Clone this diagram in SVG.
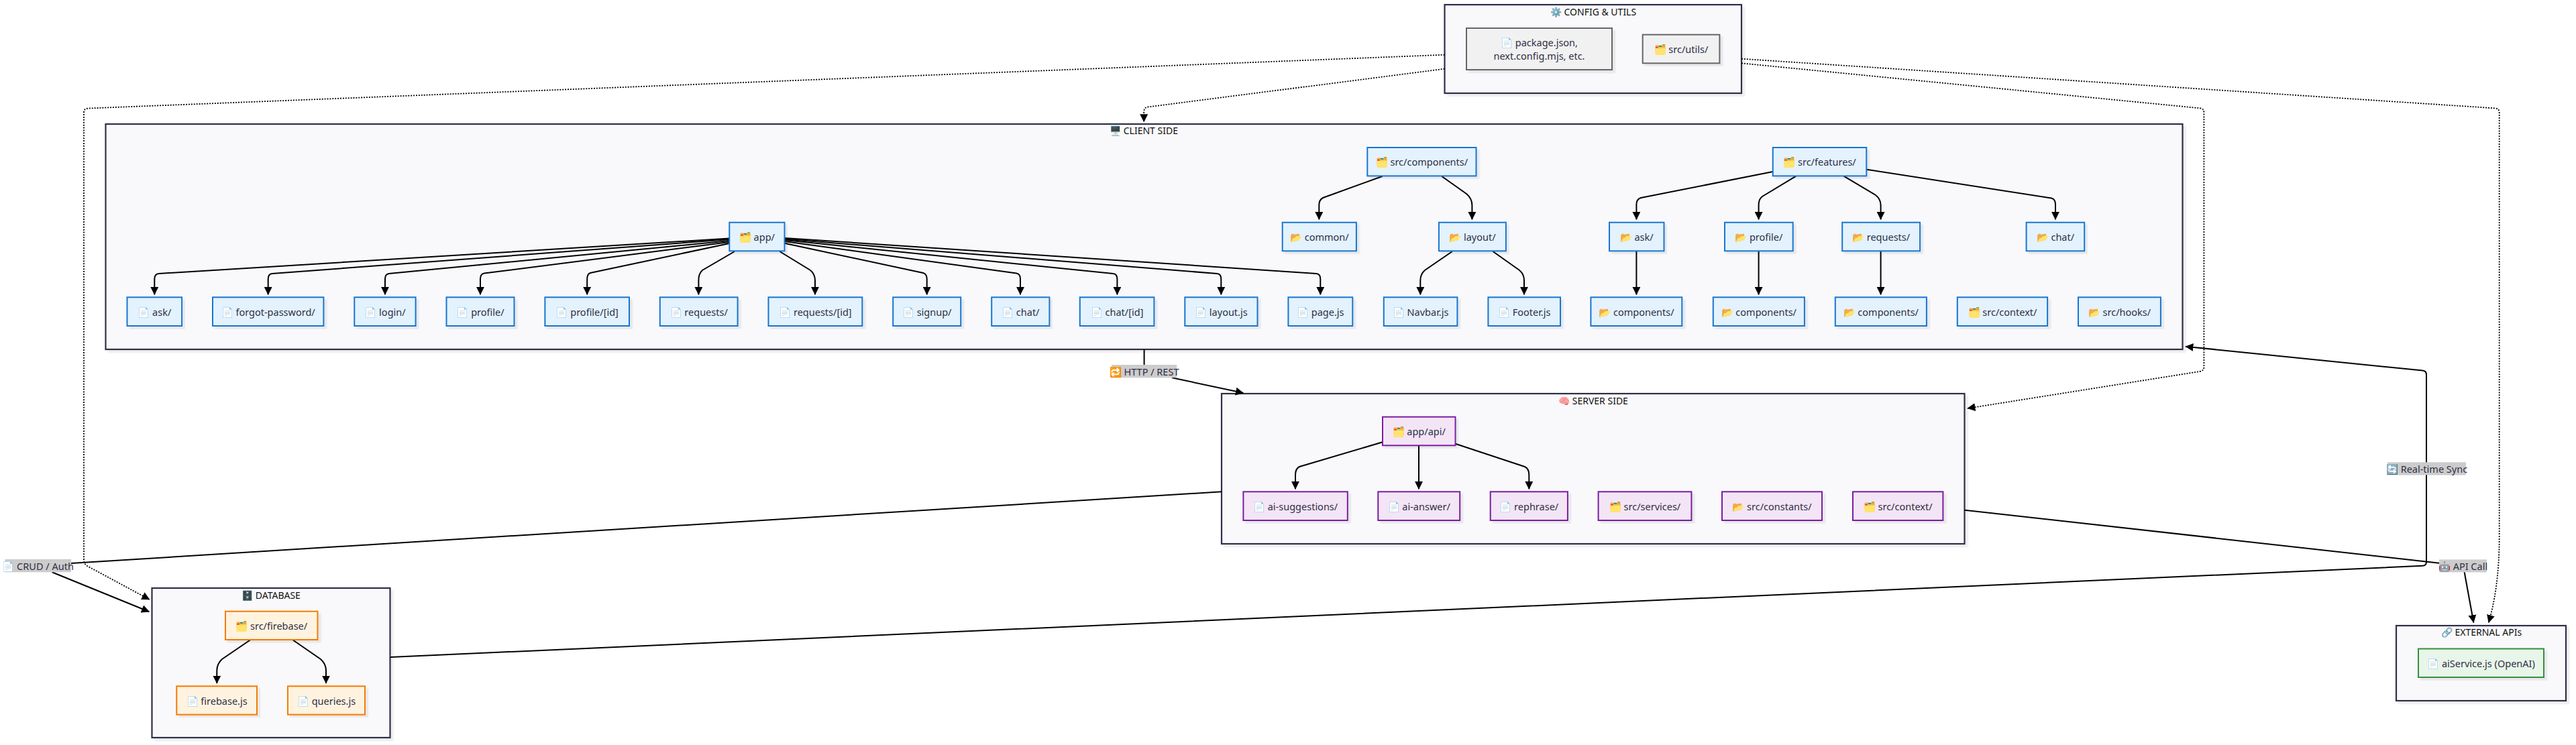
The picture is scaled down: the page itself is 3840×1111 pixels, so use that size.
<svg xmlns="http://www.w3.org/2000/svg" width="3840" height="1111" viewBox="0 0 3840 1111">
<style>
text{font-family:"Noto Sans","Open Sans",sans-serif;font-size:14.5px;fill:#2f2f45;text-anchor:middle;dominant-baseline:central}
.t{fill:#111;font-size:14px}
.c{fill:#f9f9fb;stroke:#2f2f48;stroke-width:2.2;filter:url(#sh)}
.n{stroke-width:2;filter:url(#sh)}
.b{fill:#e3f2fd;stroke:#1976d2}
.p{fill:#f3e5f5;stroke:#7b1fa2}
.o{fill:#fff3e0;stroke:#f57c00}
.g{fill:#e8f5e9;stroke:#388e3c}
.y{fill:#f1f1f1;stroke:#666}
.e{fill:none;stroke:#000;stroke-width:2;marker-end:url(#a)}
.l{fill:none;stroke:#000;stroke-width:2}
.d{fill:none;stroke:#000;stroke-width:1.8;stroke-dasharray:2 1.9;marker-end:url(#a)}
.lb{fill:#ccc}
</style>
<defs>
<filter id="sh" x="-5%" y="-5%" width="110%" height="115%"><feDropShadow dx="4" dy="4" stdDeviation="1" flood-color="#000" flood-opacity=".07"/></filter>
<marker id="a" markerUnits="userSpaceOnUse" viewBox="0 0 10 10" refX="9.5" refY="5" markerWidth="12" markerHeight="12" orient="auto"><path d="M0 0L10 5L0 10z" fill="#000"/></marker>
</defs>
<rect width="3840" height="1111" fill="#fff"/>
<g id="clusters">
<g id="cluster-config"><rect class="c" x="2153.5" y="7" width="442.5" height="132"/><text class="t" x="2375" y="17">⚙️ CONFIG &amp; UTILS</text></g>
<g id="cluster-client"><rect class="c" x="157.5" y="185" width="3096" height="336"/><text class="t" x="1705" y="194.5">🖥️ CLIENT SIDE</text></g>
<g id="cluster-server"><rect class="c" x="1821" y="587" width="1107.5" height="224"/><text class="t" x="2375" y="597">🧠 SERVER SIDE</text></g>
<g id="cluster-db"><rect class="c" x="226.5" y="877" width="355" height="223"/><text class="t" x="404" y="887">🗄️ DATABASE</text></g>
<g id="cluster-external"><rect class="c" x="3572" y="933" width="253" height="112"/><text class="t" x="3699" y="942.5">🔗 EXTERNAL APIs</text></g>
</g>
<g id="connectors">
<path class="e" d="M1087.3 355.5L237 408Q230.3 408.5 230.3 416V439.3"/>
<path class="e" d="M1087.3 357L406 408Q399.7 408.5 399.7 416V439.3"/>
<path class="e" d="M1087.3 359L580 408Q574 408.8 574 416V439.3"/>
<path class="e" d="M1087.3 361L722 407.5Q716 408.5 716 416V439.3"/>
<path class="e" d="M1087.3 363L880 407Q875.2 408.5 875.2 416V439.3"/>
<path class="e" d="M1095 375L1047 403Q1041.4 408 1041.4 418V439.3"/>
<path class="e" d="M1162.3 375L1208 403Q1215 409 1215 418V439.3"/>
<path class="e" d="M1169.5 362.7L1376 407Q1381.7 408.5 1381.7 416V439.3"/>
<path class="e" d="M1169.5 360L1515 407.5Q1521 408.5 1521 416V439.3"/>
<path class="e" d="M1169.5 358L1659 408Q1665.4 408.5 1665.4 416V439.3"/>
<path class="e" d="M1169.5 356.5L1814 408Q1820.3 408.5 1820.3 416V439.3"/>
<path class="e" d="M1169.5 355L1962 408Q1968.3 408.5 1968.3 416V439.3"/>
<path class="e" d="M2061 262.7L1972 295Q1966.3 298 1966.3 306V327.3"/>
<path class="e" d="M2149 262.7L2186 289Q2194.4 296 2194.4 306V327.3"/>
<path class="e" d="M2164.8 375L2124 403Q2117.3 409 2117.3 418V439.3"/>
<path class="e" d="M2225.5 375L2265 403Q2272 409 2272 418V439.3"/>
<path class="e" d="M2642.8 256L2446 295Q2439.4 297 2439.4 305V327.3"/>
<path class="e" d="M2677.3 262.7L2627 293Q2621.6 297 2621.6 306V327.3"/>
<path class="e" d="M2748.5 262.7L2796 291Q2803.6 297 2803.6 306V327.3"/>
<path class="e" d="M2782.3 252.7L3058 295.5Q3064 297 3064 305V327.3"/>
<path class="e" d="M2439.4 375V439.3"/>
<path class="e" d="M2621.6 375V439.3"/>
<path class="e" d="M2803.6 375V439.3"/>
<path class="e" d="M2061 659.3L1937 696Q1931 699 1931 708V729.3"/>
<path class="e" d="M2115 664.5V729.3"/>
<path class="e" d="M2169.5 661.7L2273 696Q2279.3 699 2279.3 708V729.3"/>
<path class="e" d="M373.5 954L331 983Q323.3 990 323.3 1000V1019"/>
<path class="e" d="M436 954L478 983Q486 990 486 1000V1019"/>
<path class="l" d="M1705.6 521V544"/>
<path class="e" d="M1747 563.3L1853.4 586"/>
<path class="l" d="M1821 733.3L106 840"/>
<path class="e" d="M77.6 853.3L222.4 912.3"/>
<path class="l" d="M2928.6 760.7L3636 839.7"/>
<path class="e" d="M3673.6 853L3687.4 928.5"/>
<path class="e" d="M582 980L3611 843.8Q3617 843.5 3617 838V559Q3617 553 3611 552.6L3258 516.7"/>
<path class="d" d="M2153.5 102.7L1711 159.5Q1705.2 160.5 1705.2 167V181.7"/>
<path class="d" d="M2153.5 81.7L131 161.6Q125 162 125 168V835Q125 841 130 844L222.8 894"/>
<path class="d" d="M2596 94.3L3280 161.4Q3285.4 162 3285.4 168V547Q3285.4 553 3279 554L2933 609"/>
<path class="d" d="M2596 87.7L3719 161.4Q3725.7 162 3725.7 168V800C3725.7 860 3718 900 3709.8 928.5"/>
</g>
<g id="edge-labels">
<g id="label-http"><rect class="lb" x="1657" y="544" width="97.3" height="19.3"/><text x="1705.6" y="553.7">🔁 HTTP / REST</text></g>
<g id="label-crud"><rect class="lb" x="7.3" y="834" width="98.7" height="19.3"/><text x="56.6" y="843.7">📄 CRUD / Auth</text></g>
<g id="label-api"><rect class="lb" x="3636" y="834.4" width="71" height="19"/><text x="3671.5" y="844">🤖 API Call</text></g>
<g id="label-sync"><rect class="lb" x="3559" y="689.3" width="117" height="19.2"/><text x="3617.5" y="699">🔄 Real-time Sync</text></g>
</g>
<g id="nodes">
<g id="n-package"><rect class="n y" x="2186" y="42" width="217" height="62"/><text x="2294.5" y="63">📄 package.json,</text><text x="2294.5" y="83">next.config.mjs, etc.</text></g>
<g id="n-utils"><rect class="n y" x="2448.7" y="51.7" width="114.7" height="42.6"/><text x="2506" y="73">🗂️ src/utils/</text></g>
<g id="n-app"><rect class="n b" x="1087.3" y="331.7" width="82.2" height="42.6"/><text x="1128.4" y="353">🗂️ app/</text></g>
<g id="n-components"><rect class="n b" x="2038.3" y="220" width="162.2" height="42.4"/><text x="2119.4" y="241">🗂️ src/components/</text></g>
<g id="n-features"><rect class="n b" x="2642.8" y="220" width="139.5" height="42.4"/><text x="2712.5" y="241">🗂️ src/features/</text></g>
<g id="n-common"><rect class="n b" x="1911.7" y="331.7" width="110.2" height="42.6"/><text x="1966.8" y="353">📂 common/</text></g>
<g id="n-layout"><rect class="n b" x="2144.9" y="331.7" width="100" height="42.6"/><text x="2194.9" y="353">📂 layout/</text></g>
<g id="n-fask"><rect class="n b" x="2399" y="331.7" width="81.5" height="42.6"/><text x="2439.7" y="353">📂 ask/</text></g>
<g id="n-fprofile"><rect class="n b" x="2571" y="331.7" width="101.7" height="42.6"/><text x="2621.8" y="353">📂 profile/</text></g>
<g id="n-frequests"><rect class="n b" x="2746.2" y="331.7" width="115.9" height="42.6"/><text x="2804.1" y="353">📂 requests/</text></g>
<g id="n-fchat"><rect class="n b" x="3020.6" y="331.7" width="86.6" height="42.6"/><text x="3063.9" y="353">📂 chat/</text></g>
<g id="n-ask"><rect class="n b" x="189.5" y="443.3" width="81.6" height="42.7"/><text x="230.3" y="464.7">📄 ask/</text></g>
<g id="n-forgot"><rect class="n b" x="317" y="443.3" width="165.4" height="42.7"/><text x="399.7" y="464.7">📄 forgot-password/</text></g>
<g id="n-login"><rect class="n b" x="528.3" y="443.3" width="91.3" height="42.7"/><text x="574" y="464.7">📄 login/</text></g>
<g id="n-profile"><rect class="n b" x="665.5" y="443.3" width="101" height="42.7"/><text x="716" y="464.7">📄 profile/</text></g>
<g id="n-profileid"><rect class="n b" x="812.4" y="443.3" width="125.6" height="42.7"/><text x="875.2" y="464.7">📄 profile/[id]</text></g>
<g id="n-requests"><rect class="n b" x="983.8" y="443.3" width="115.8" height="42.7"/><text x="1041.7" y="464.7">📄 requests/</text></g>
<g id="n-requestsid"><rect class="n b" x="1145.5" y="443.3" width="139.8" height="42.7"/><text x="1215.4" y="464.7">📄 requests/[id]</text></g>
<g id="n-signup"><rect class="n b" x="1331.2" y="443.3" width="101" height="42.7"/><text x="1381.7" y="464.7">📄 signup/</text></g>
<g id="n-chat"><rect class="n b" x="1478.2" y="443.3" width="86.2" height="42.7"/><text x="1521.3" y="464.7">📄 chat/</text></g>
<g id="n-chatid"><rect class="n b" x="1609.8" y="443.3" width="110.6" height="42.7"/><text x="1665.1" y="464.7">📄 chat/[id]</text></g>
<g id="n-layoutjs"><rect class="n b" x="1766.3" y="443.3" width="108.2" height="42.7"/><text x="1820.4" y="464.7">📄 layout.js</text></g>
<g id="n-pagejs"><rect class="n b" x="1920.4" y="443.3" width="95.9" height="42.7"/><text x="1968.3" y="464.7">📄 page.js</text></g>
<g id="n-navbar"><rect class="n b" x="2062.8" y="443.3" width="109.6" height="42.7"/><text x="2117.6" y="464.7">📄 Navbar.js</text></g>
<g id="n-footer"><rect class="n b" x="2218.4" y="443.3" width="107.6" height="42.7"/><text x="2272.2" y="464.7">📄 Footer.js</text></g>
<g id="n-askcomp"><rect class="n b" x="2371.4" y="443.3" width="135.9" height="42.7"/><text x="2439.4" y="464.7">📂 components/</text></g>
<g id="n-profilecomp"><rect class="n b" x="2553.8" y="443.3" width="136.1" height="42.7"/><text x="2621.8" y="464.7">📂 components/</text></g>
<g id="n-requestscomp"><rect class="n b" x="2735.8" y="443.3" width="136.1" height="42.7"/><text x="2803.8" y="464.7">📂 components/</text></g>
<g id="n-context"><rect class="n b" x="2917.8" y="443.3" width="134.3" height="42.7"/><text x="2985" y="464.7">🗂️ src/context/</text></g>
<g id="n-hooks"><rect class="n b" x="3098" y="443.3" width="122.9" height="42.7"/><text x="3159.5" y="464.7">📂 src/hooks/</text></g>
<g id="n-api"><rect class="n p" x="2061" y="621.7" width="108.5" height="42.6"/><text x="2115.2" y="643">🗂️ app/api/</text></g>
<g id="n-sugg"><rect class="n p" x="1853.4" y="733.3" width="155.4" height="42.7"/><text x="1931.1" y="754.7">📄 ai-suggestions/</text></g>
<g id="n-answer"><rect class="n p" x="2054.3" y="733.3" width="121.9" height="42.7"/><text x="2115.2" y="754.7">📄 ai-answer/</text></g>
<g id="n-rephrase"><rect class="n p" x="2221.7" y="733.3" width="115.2" height="42.7"/><text x="2279.3" y="754.7">📄 rephrase/</text></g>
<g id="n-services"><rect class="n p" x="2382.6" y="733.3" width="138.8" height="42.7"/><text x="2452" y="754.7">🗂️ src/services/</text></g>
<g id="n-constants"><rect class="n p" x="2567" y="733.3" width="149" height="42.7"/><text x="2641.5" y="754.7">📂 src/constants/</text></g>
<g id="n-scontext"><rect class="n p" x="2762" y="733.3" width="134.4" height="42.7"/><text x="2829.2" y="754.7">🗂️ src/context/</text></g>
<g id="n-firebase"><rect class="n o" x="336" y="911.7" width="137.5" height="42.3"/><text x="404.7" y="933">🗂️ src/firebase/</text></g>
<g id="n-firebasejs"><rect class="n o" x="263.3" y="1023.3" width="119.7" height="42.4"/><text x="323.1" y="1044.5">📄 firebase.js</text></g>
<g id="n-queries"><rect class="n o" x="429" y="1023.3" width="115" height="42.4"/><text x="486.5" y="1044.5">📄 queries.js</text></g>
<g id="n-ai"><rect class="n g" x="3605" y="967.5" width="187" height="42.5"/><text x="3698.5" y="988.7">📄 aiService.js (OpenAI)</text></g>
</g>
</svg>
